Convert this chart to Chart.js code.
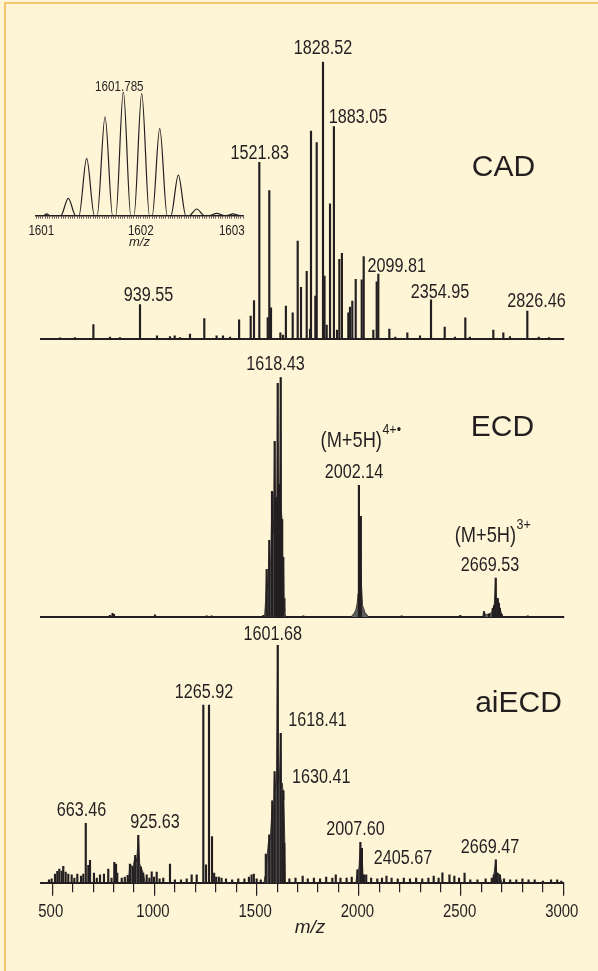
<!DOCTYPE html>
<html><head><meta charset="utf-8">
<script src="https://cdn.jsdelivr.net/npm/chart.js@4.4.1/dist/chart.umd.min.js"></script>
<style>
html,body{margin:0;padding:0;background:#fef4d6;}
#page{position:relative;width:598px;height:971px;background:#fef4d6;overflow:hidden;}
#topline{position:absolute;left:4px;top:2px;width:594px;height:2px;background:#f9c46e;}
#leftline{position:absolute;left:4px;top:2px;width:2px;height:969px;background:#f9c46e;}
canvas{position:absolute;left:0;}
</style></head><body>
<div id="page">
<div id="topline"></div><div id="leftline"></div>
<canvas id="cad" width="598" height="350" style="top:0px"></canvas>
<canvas id="ecd" width="598" height="280" style="top:345px"></canvas>
<canvas id="aiecd" width="598" height="351" style="top:620px"></canvas>
<canvas id="inset" width="260" height="200" style="top:60px"></canvas>
</div>
<script>
// ---------- data ----------
const mzMin = 444, mzMax = 3000;
const mzTicks = [500, 1000, 1500, 2000, 2500, 3000];
const axisTitle = 'm/z';

// CAD spectrum (m/z, relative intensity %)
const cadMz  = [537.9,611,701.3,782.5,831,929.3,1012.5,1076,1099,1125,1173.9,1243.8,1304,1335.3,1370,1414.1,1470.8,1487,1512.9,1554,1561.8,1570.1,1616,1629,1643,1676.3,1700.7,1716.9,1744.8,1761,1765.8,1787,1793.7,1824.5,1832,1842.6,1858.8,1877.9,1893,1904.3,1917,1948.3,1956.6,1967.9,1984.5,2013.9,2023.6,2070.6,2087.2,2095.1,2149,2178,2237,2299,2352.9,2419.9,2470,2520.7,2543,2657.7,2706.6,2739,2824,2880,2930];
const cadInt = [0.4,0.5,5.2,0.7,0.5,12.4,1.1,0.9,1.1,0.5,1.8,7.4,1.1,1.1,0.7,6.9,8.3,13.9,63.7,7.7,53.5,11.2,2.2,1.4,11.9,9.4,35.3,18.6,24.4,3.6,75.0,15.5,70.8,100,22.7,5.0,48.7,76.6,3.2,28.7,30.9,9.4,11.5,13.7,21.5,21.3,29.7,3.2,20.6,23.4,3.6,0.7,2.2,1.1,14.1,4.3,0.7,7.6,0.7,3.2,2.2,0.9,10.1,0.7,0.5];
const cadLabelText = ['939.55','1521.83','1828.52','1883.05','2099.81','2354.95','2826.46'];
const cadLabelMz   = [929.3,1512.9,1824.5,1877.9,2095.1,2352.9,2824];
const cadLabelVal  = [12.4,63.7,100,76.6,23.4,14.1,10.1];

// ECD spectrum
const ecdMz  = [782,794.8,802,1002.6,1255.6,1280,1532.5,1549,1561.8,1575,1588.1,1596,1602.9,1609.3,1617.6,1624,1630.3,1728,2000.2,2009.4,2209,2496,2612,2637,2655,2662,2669.4,2679,2685,2690,2699,2826];
const ecdInt = [0.8,1.7,1.2,1.0,0.6,0.6,0.8,20,32.1,52.5,73.3,50,97.5,55.4,100,40.8,25,0.6,55,42.1,0.6,0.8,2.4,1.2,3.75,5,16.3,7.9,5.8,3.75,1.2,0.6];
const ecdEnvAMz  = [1538,1543,1549,1553,1557,1561.8,1566,1570,1575,1579,1583,1588.1,1592,1596,1599,1602.9,1606,1609.3,1613,1617.6,1620.5,1624,1627,1630.3,1634,1638,1643];
const ecdEnvAInt = [0,6,20,12,18,32,22,28,52,35,40,73,45,50,48,97.5,52,55,52,100,45,40.8,24,25,8,2,0];
const ecdEnvBMz  = [1960,1975,1985,1992,1996,1998.5,2000.2,2003,2006,2009.4,2012,2018,2030,2049];
const ecdEnvBInt = [0,1.5,3,6,10,18,55,20,25,42,15,5,2,0];
const ecdEnvCMz  = [2605,2612,2620,2637,2650,2655,2662,2669.4,2673,2679,2685,2690,2699,2705];
const ecdEnvCInt = [0,2.4,1,1.5,2,3.7,5,16.3,6,7.9,5.8,3.7,1.2,0];
const ecdLabelText = ['1618.43','2002.14','2669.53'];
const ecdLabelMz   = [1617.6,2000.2,2669.4];
const ecdLabelVal  = [100,55,16.3];
const ecdIonText = ['(M+5H)','(M+5H)'];
const ecdIonSup  = ['4+\u2022','3+'];
const ecdIonMz   = [2000.2,2669.4];
const ecdIonVal  = [55,16.3];

// aiECD spectrum
const aiMz  = [484,497,513.5,524.7,534.5,546,554,565.8,578.5,595,608,622.6,640.7,652,664,676.4,684.7,704,718,733.6,753,774,790,803.6,812,818,840,855,869,880,895,906,921,934,945,962,975,986.5,998,1011,1025,1043,1076,1100,1130,1157.7,1182,1206.7,1239,1252,1266.8,1281.5,1292,1302,1315,1328,1350,1380,1410,1440,1462,1475,1486,1500,1520,1544.7,1561.8,1576.5,1587.7,1603,1617.6,1629,1635,1660,1690,1725,1750,1780,1810,1840,1870,1887,1910,1940,1965,1993,2007.5,2014.8,2025,2036,2060,2090,2113,2135,2160,2190,2220,2250,2280,2310,2340,2366,2390,2408.6,2443,2467,2490,2517,2545,2580,2620,2650,2660,2669.9,2678,2690,2710,2740,2770,2800,2830,2860,2900,2940,2970,2990];
const aiInt = [1.3,1.7,3.7,4.9,5.9,5.0,7.0,4.6,3.8,3.4,2.1,3.8,2.9,3.8,25.1,7.4,9.5,4.2,2.1,3.4,3.8,5.9,2.1,8.7,8.0,4.2,2.1,2.5,3.2,8.0,6.7,11.6,20.0,6.7,4.2,3.4,2.1,4.7,2.5,4.6,1.7,2.1,7.9,1.3,1.3,1.7,3.4,3.4,74.8,7.6,74.8,19.5,4.2,2.5,2.5,2.1,1.7,1.3,1.7,1.7,2.5,3.4,3.8,1.7,1.3,12.2,20.2,34.5,46.8,100,62.9,38.8,16.8,1.7,2.1,2.9,1.7,2.1,1.7,2.5,2.1,3.4,2.1,2.1,2.5,5.5,17.1,14.6,3.4,3.4,2.1,1.7,2.1,2.9,2.1,1.7,2.1,1.7,2.1,1.7,2.1,2.9,2.1,4.3,3.4,2.9,2.1,4.2,1.3,1.3,1.7,2.1,3.4,9.7,4.2,3.4,1.7,1.3,1.3,1.7,1.3,1.3,0.8,1.3,1.3,0.8];
const aiEnvAMz  = [1536,1541,1544.7,1549,1555,1561.8,1566,1571,1576.5,1581,1584,1587.7,1592,1597,1603,1607,1612,1617.6,1621,1625,1629,1633,1637,1641];
const aiEnvAInt = [0,3,12.2,9,15,20.2,18,25,34.5,30,36,46.8,40,44,100,42,45,62.9,40,42,38.8,35,20,0];
const aiEnvBMz  = [872,880,895,906,913,921,928,934,945,955];
const aiEnvBInt = [0,8,6.7,11.6,9,20,8,6.7,4.2,0];
const aiEnvCMz  = [1985,1993,2000,2007.5,2011,2014.8,2020,2030];
const aiEnvCInt = [0,5.5,6,17.1,8,14.6,4,0];
const aiEnvDMz  = [2650,2660,2669.9,2675,2678,2690,2700];
const aiEnvDInt = [0,3.4,9.7,3,4.2,3.4,0];
const aiLabelText = ['663.46','925.63','1265.92','1601.68','1618.41','1630.41','2007.60','2405.67','2669.47'];
const aiLabelMz   = [664,921,1266.8,1603,1617.6,1629,2007.5,2408.6,2669.9];
const aiLabelVal  = [25.1,20.0,74.8,100,62.9,38.8,17.1,4.3,9.7];

// inset: isotope profile of the 5+ ion
const isoMz  = [1600.85,1600.93,1600.966,1601.0,1601.12,1601.203,1601.285,1601.32,1601.405,1601.49,1601.52,1601.607,1601.69,1601.725,1601.808,1601.89,1601.925,1602.010,1602.095,1602.125,1602.208,1602.29,1602.33,1602.412,1602.495,1602.53,1602.614,1602.70,1602.75,1602.834,1602.92,1602.94,1603.013,1603.09,1603.126];
const isoRel = [0,0,1.4,0,0,14.0,0,0,46.3,0,0,79.8,0,0,100,0,0,98.7,0,0,70.5,0,0,32.8,0,0,5.4,0,0,1.9,0,0,1.4,0,0];
const isoTicks = [1601, 1602, 1603];
const isoLabelText = ['1601.785'];
const isoLabelMz = [1601.808];
const isoLabelVal = [100];

const panelNames = ['CAD', 'ECD', 'aiECD'];

// ---------- styles ----------
const INK = '#231f20';
const FILL = '#5e5e5e';
const SANS = "'Liberation Sans',Arial,Helvetica,sans-serif";
const SX = 0.83;               // horizontal condensing of label text
const peakFont = "19.5px " + SANS;
const nameFont = "30px " + SANS;
const cadShift = [[8.5,-3.3],[0.4,-3],[0,-7.7],[24,-3.4],[18.4,-2.3],[9,-2.3],[9.3,-3.7]];
const ecdShift = [[-5.1,-7.3],[-4.9,-7.3],[-5.7,-7.6]];
const ecdIonShift = [[1.6,-38.3],[-3.2,-36]];
const aiShift = [[-4.3,-7.3],[16.8,-7],[-5,-6.7],[-5,-5],[36.9,-7.3],[38.2,-7.4],[-4.9,-7.3],[-39.4,-8.4],[-5.8,-7.3]];
const namePos = [[2707,58.8],[2702,75.5],[2781,71.8]];
const isoTickShift = [-8.5, 0, 0];

function pts(xs, ys) { return xs.map((m, i) => ({x: m, y: ys[i]})); }
function peakItems(texts, mz, val, shift, font) {
  return texts.map((t, i) => ({text: t, mz: mz[i], val: val[i], dx: shift[i][0], dy: shift[i][1], font, sx: SX}));
}
function drawText(ctx, text, x, y, font, align, sx) {
  ctx.save();
  ctx.font = font; ctx.textAlign = align; ctx.textBaseline = 'alphabetic'; ctx.fillStyle = INK;
  ctx.translate(x, y); ctx.scale(sx, 1); ctx.fillText(text, 0, 0);
  ctx.restore();
}
function textWidth(ctx, text, font, sx) { ctx.save(); ctx.font = font; const w = ctx.measureText(text).width * sx; ctx.restore(); return w; }

function labelPlugin(items) {
  return {
    id: 'peakText',
    afterDraw(chart) {
      const {ctx} = chart; const x = chart.scales.x, y = chart.scales.y;
      for (const it of items) {
        const px = x.getPixelForValue(it.mz) + it.dx;
        const py = y.getPixelForValue(it.val) + it.dy;
        if (it.sup) {
          const w1 = textWidth(ctx, it.text, it.font, it.sx);
          const w2 = textWidth(ctx, it.sup, it.supFont, it.sx);
          const sx0 = px - (w1 + w2) / 2;
          drawText(ctx, it.text, sx0, py, it.font, 'left', it.sx);
          drawText(ctx, it.sup, sx0 + w1 + 0.5, py + it.supDy, it.supFont, 'left', it.sx);
        } else {
          drawText(ctx, it.text, px, py, it.font, 'center', it.sx);
        }
      }
    }
  };
}

const bottomAxisPlugin = {
  id: 'bottomAxis',
  afterDraw(chart) {
    const {ctx, chartArea} = chart; const x = chart.scales.x;
    ctx.save(); ctx.strokeStyle = INK; ctx.lineWidth = 1.2;
    mzTicks.forEach(v => {
      const p = Math.round(x.getPixelForValue(v) - 0.6) + 0.6;
      ctx.beginPath(); ctx.moveTo(p, chartArea.bottom + 8); ctx.lineTo(p, chartArea.bottom + 12.7); ctx.stroke();
      drawText(ctx, String(v), x.getPixelForValue(v) - 1.5, chartArea.bottom + 34.3, "18px " + SANS, 'center', SX);
    });
    ctx.restore();
    drawText(ctx, axisTitle, x.getPixelForValue(1761), chartArea.bottom + 50, "italic 19px " + SANS, 'center', 1);
  }
};

function spectrum(id, o) {
  const datasets = o.envs.map(e => ({type: 'line', data: pts(e[0], e[1]), borderColor: INK, borderWidth: 0.8,
    backgroundColor: FILL, fill: 'origin', pointRadius: 0, tension: 0, order: 2}));
  datasets.push({type: 'bar', data: pts(o.mz, o.val), backgroundColor: INK, barThickness: 1.5, order: 1});
  const plugins = [labelPlugin(o.items)];
  if (o.bottom) plugins.push(bottomAxisPlugin);
  return new Chart(document.getElementById(id), {
    type: 'bar',
    data: {datasets},
    options: {
      responsive: false, animation: false, events: [],
      layout: {padding: {left: 40.8, right: 34.7, top: o.top, bottom: 0}},
      plugins: {legend: {display: false}, tooltip: {enabled: false}},
      scales: {
        x: {
          type: 'linear', min: mzMin, max: mzMax, offset: false,
          border: {display: true, color: INK, width: 2},
          grid: {display: true, drawOnChartArea: false, drawTicks: !!o.bottom, tickLength: 9.3, color: INK, lineWidth: 1.2, offset: false},
          ticks: {display: false, stepSize: 100, autoSkip: false, includeBounds: false, maxRotation: 0, minRotation: 0},
          title: {display: false},
          afterFit: s => { s.height = o.axisH; }
        },
        y: {display: false, min: 0, max: 100}
      }
    },
    plugins
  });
}

// CAD
spectrum('cad', {
  mz: cadMz, val: cadInt, envs: [], top: 61.7, axisH: 11,
  items: peakItems(cadLabelText, cadLabelMz, cadLabelVal, cadShift, peakFont)
    .concat([{text: panelNames[0], mz: namePos[0][0], val: namePos[0][1], dx: 0, dy: 0, font: nameFont, sx: 1}])
});
// ECD
spectrum('ecd', {
  mz: ecdMz, val: ecdInt, envs: [[ecdEnvAMz, ecdEnvAInt], [ecdEnvBMz, ecdEnvBInt], [ecdEnvCMz, ecdEnvCInt]],
  top: 32.3, axisH: 7.7,
  items: peakItems(ecdLabelText, ecdLabelMz, ecdLabelVal, ecdShift, peakFont)
    .concat(ecdIonText.map((t, i) => ({text: t, sup: ecdIonSup[i], mz: ecdIonMz[i], val: ecdIonVal[i],
      dx: ecdIonShift[i][0], dy: ecdIonShift[i][1], font: "22px " + SANS, supFont: "15px " + SANS, supDy: -13.5, sx: SX})))
    .concat([{text: panelNames[1], mz: namePos[1][0], val: namePos[1][1], dx: 0, dy: 0, font: nameFont, sx: 1}])
});
// aiECD
spectrum('aiecd', {
  mz: aiMz, val: aiInt, envs: [[aiEnvAMz, aiEnvAInt], [aiEnvBMz, aiEnvBInt], [aiEnvCMz, aiEnvCInt], [aiEnvDMz, aiEnvDInt]],
  top: 25, axisH: 88, bottom: true,
  items: peakItems(aiLabelText, aiLabelMz, aiLabelVal, aiShift, peakFont)
    .concat([{text: panelNames[2], mz: namePos[2][0], val: namePos[2][1], dx: 0, dy: 0, font: nameFont, sx: 1}])
});

// inset
const insetAxisPlugin = {
  id: 'insetAxis',
  afterDraw(chart) {
    const {ctx, chartArea} = chart; const x = chart.scales.x;
    isoTicks.forEach((v, i) => drawText(ctx, String(v), x.getPixelForValue(v) + isoTickShift[i], chartArea.bottom + 19.3, "14px " + SANS, 'center', SX));
  }
};
new Chart(document.getElementById('inset'), {
  type: 'line',
  data: {datasets: [{data: pts(isoMz, isoRel), borderColor: INK, borderWidth: 1.2, pointRadius: 0, fill: false, cubicInterpolationMode: 'monotone'}]},
  options: {
    responsive: false, animation: false, events: [],
    layout: {padding: {left: 35.7, right: 16.7, top: 31.7, bottom: 0}},
    plugins: {legend: {display: false}, tooltip: {enabled: false}},
    scales: {
      x: {
        type: 'linear', min: 1600.845, max: 1603.126, offset: false,
        border: {display: true, color: INK, width: 1.5},
        grid: {display: true, drawOnChartArea: false, drawTicks: true, tickLength: 3, color: INK, lineWidth: 0.7},
        ticks: {display: false, stepSize: 0.025, autoSkip: false, includeBounds: false, maxRotation: 0, minRotation: 0},
        title: {display: true, text: axisTitle, color: INK, font: {family: SANS, size: 13, style: 'italic'}, padding: {top: 0, bottom: 10}},
        afterFit: s => { s.height = 44.3; }
      },
      y: {display: false, min: 0, max: 100}
    }
  },
  plugins: [insetAxisPlugin, labelPlugin(isoLabelText.map((t, i) => ({text: t, mz: isoLabelMz[i], val: isoLabelVal[i], dx: -4, dy: -1, font: "14px " + SANS, sx: SX})))]
});
</script>
</body></html>
